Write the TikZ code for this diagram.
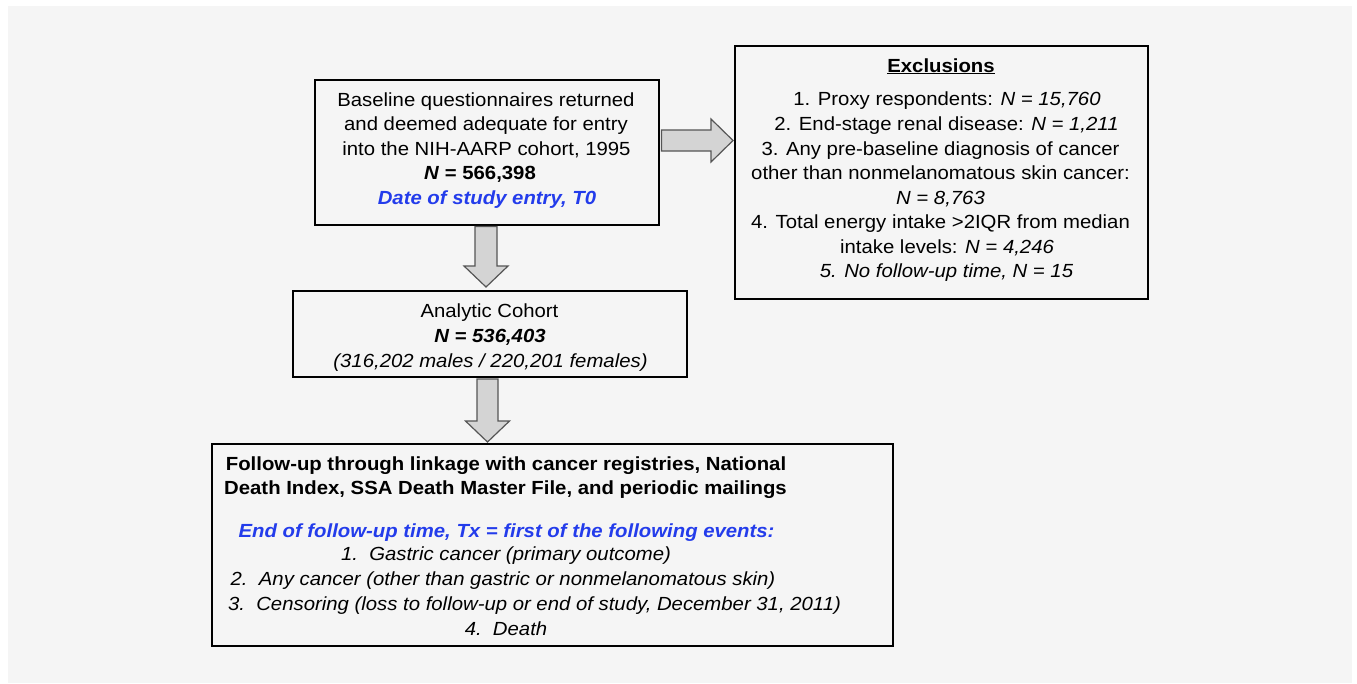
\documentclass[tikz,border=0pt]{standalone}
\usepackage{fontspec}
\setmainfont{Liberation Sans}[FakeStretch=1.07]
\usetikzlibrary{calc}
\definecolor{bgc}{RGB}{245,245,245}
\definecolor{blu}{RGB}{35,60,235}
\definecolor{arrfill}{RGB}{212,212,212}
\definecolor{arrline}{RGB}{85,85,85}
\begin{document}
\begin{tikzpicture}[x=1pt,y=-1pt,
  box/.style={draw=black, line width=1.8pt, inner sep=0pt, fill=bgc},
  txt/.style={anchor=base, inner sep=0pt, font=\fontsize{19}{24.6}\selectfont},
  btxt/.style={txt, font=\fontsize{19}{24.6}\selectfont\bfseries},
  fatarr/.style={draw=arrline, fill=arrfill, line width=1.2pt, line join=miter}]
\useasboundingbox (0,0) rectangle (1357,683);
\fill[white] (0,0) rectangle (1357,683);
\fill[bgc] (8,6) rectangle (1352,683);

% boxes
\node[box, minimum width=344pt, minimum height=145pt] (b1) at (487,152.5) {};
\node[box, minimum width=413pt, minimum height=253pt] (ex) at (941.5,172.5) {};
\node[box, minimum width=394pt, minimum height=86pt] (b2) at (490,334) {};
\node[box, minimum width=681pt, minimum height=202pt] (b3) at (552.5,545) {};

% box 1 text
\node[txt] (b1l1) at (486,106) {Baseline questionnaires returned};
\node[txt] (b1l2) at (486,130.6) {and deemed adequate for entry};
\node[txt] (b1l3) at (486.5,155.2) {into the NIH-AARP cohort, 1995};
\node[txt] (b1l4) at (480,179.8) {\textbf{\textit{N} = 566,398}};
\node[txt, text=blu] (b1l5) at (487,204.4) {\textbf{\textit{Date of study entry, T0}}};

% exclusions text
\node[txt] (ext) at (941,72) {\textbf{\underline{Exclusions}}};
\node[txt] (ex1) at (947,105.7) {1. Proxy respondents: \textit{N = 15,760}};
\node[txt] (ex2) at (946.5,130.5) {2. End-stage renal disease: \textit{N = 1,211}};
\node[txt] (ex3) at (940.5,155) {3. Any pre-baseline diagnosis of cancer};
\node[txt] (ex4) at (940.5,179) {other than nonmelanomatous skin cancer:};
\node[txt] (ex5) at (940.5,204) {\textit{N = 8,763}};
\node[txt] (ex6) at (940.5,228) {4. Total energy intake >2IQR from median};
\node[txt] (ex7) at (947,253) {intake levels: \textit{N = 4,246}};
\node[txt] (ex8) at (946.5,277) {\textit{5. No follow-up time, N = 15}};

% box 2 text
\node[txt] (b2l1) at (489.5,317) {Analytic Cohort};
\node[txt] (b2l2) at (490,342) {\textbf{\textit{N = 536,403}}};
\node[txt] (b2l3) at (490.5,367) {\textit{(316,202 males / 220,201 females)}};

% box 3 text
\node[btxt] (b3l1) at (506,470) {Follow-up through linkage with cancer registries, National};
\node[btxt] (b3l2) at (505.5,494) {Death Index, SSA Death Master File, and periodic mailings};
\node[txt, text=blu] (b3l3) at (506.5,537) {\textbf{\textit{End of follow-up time, Tx = first of the following events:}}};
\node[txt] (b3l4) at (506,560) {\textit{1.\ \ Gastric cancer (primary outcome)}};
\node[txt] (b3l5) at (503,585.5) {\textit{2.\ \ Any cancer (other than gastric or nonmelanomatous skin)}};
\node[txt] (b3l6) at (534.5,610) {\textit{3.\ \ Censoring (loss to follow-up or end of study, December 31, 2011)}};
\node[txt] (b3l7) at (506,635) {\textit{4.\ \ Death}};

% arrows
\coordinate (a1s) at (486,226.5);
\coordinate (a1t) at (486,287);
\draw[fatarr] ($(a1s)+(-11,0)$) -- ($(a1s)+(11,0)$) -- ($(a1t)+(11,-21)$) -- ($(a1t)+(22,-21)$) -- (a1t)
  -- ($(a1t)+(-22,-21)$) -- ($(a1t)+(-11,-21)$) -- cycle;

\coordinate (a2s) at (487.5,379);
\coordinate (a2t) at (487.5,442);
\draw[fatarr] ($(a2s)+(-10.5,0)$) -- ($(a2s)+(10.5,0)$) -- ($(a2t)+(10.5,-21)$) -- ($(a2t)+(22,-21)$) -- (a2t)
  -- ($(a2t)+(-22,-21)$) -- ($(a2t)+(-10.5,-21)$) -- cycle;

\coordinate (a3s) at (661.5,140.5);
\coordinate (a3t) at (733,140.5);
\draw[fatarr] ($(a3s)+(0,-10.5)$) -- ($(a3t)+(-22,-10.5)$) -- ($(a3t)+(-22,-21.5)$) -- (a3t)
  -- ($(a3t)+(-22,21.5)$) -- ($(a3t)+(-22,10.5)$) -- ($(a3s)+(0,10.5)$) -- cycle;
\end{tikzpicture}
\end{document}
